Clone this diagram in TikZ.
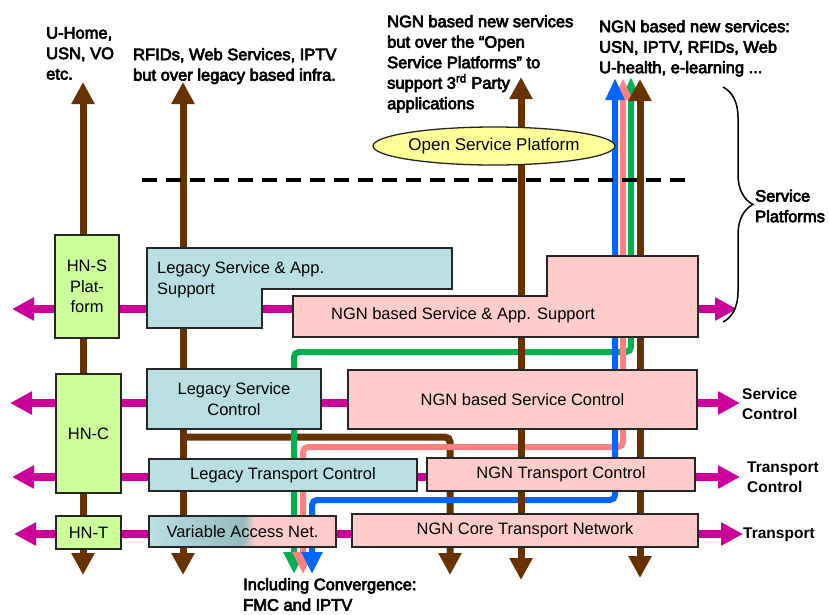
\documentclass[tikz,border=0pt]{standalone}
\usepackage{fontspec}
\setmainfont{Liberation Sans}
\newfontfamily\heavyfont[FakeBold=4]{Liberation Sans}
\usetikzlibrary{arrows.meta}
\usetikzlibrary{shapes.geometric,decorations.pathreplacing}
\definecolor{busbrown}{HTML}{663300}
\definecolor{ctrlmagenta}{HTML}{CC0099}
\definecolor{flowgreen}{HTML}{00B050}
\definecolor{flowpink}{HTML}{FF8080}
\definecolor{flowblue}{HTML}{0066FF}
\definecolor{legacyblue}{HTML}{B9DFE3}
\definecolor{accessteal}{HTML}{93BCBF}
\definecolor{ngnpink}{HTML}{FFCCCC}
\definecolor{hngreen}{HTML}{CCFF99}
\definecolor{ospyellow}{HTML}{FFFF99}
\tikzstyle{base} = [rectangle, draw=black!85, line width=1.3pt, inner sep=0pt, align=center, font=\fontsize{16.5}{20.5}\selectfont]
\tikzstyle{legacy} = [base, fill=legacyblue]
\tikzstyle{ngn} = [base, fill=ngnpink]
\tikzstyle{hn} = [base, fill=hngreen]
\tikzstyle{shapeline} = [draw=black!85, line width=1.3pt]
\tikzstyle{bus} = [draw=busbrown, line width=7pt, {Triangle[width=22pt,length=22pt]}-{Triangle[width=22pt,length=22pt]}]
\tikzstyle{ctrl} = [draw=ctrlmagenta, line width=8pt, {Triangle[width=22pt,length=22pt]}-{Triangle[width=22pt,length=22pt]}]
\tikzstyle{flow} = [line width=6pt, rounded corners=5pt, {Triangle[width=18pt,length=22pt]}-{Triangle[width=20pt,length=22pt]}]
\tikzstyle{toplabel} = [anchor=north west, inner sep=0pt, align=left, font=\heavyfont\fontsize{16.5}{20.5}\selectfont]
\tikzstyle{sidelabel} = [anchor=north west, inner sep=0pt, align=left, font=\bfseries\fontsize{15.5}{20}\selectfont]
\begin{document}
\begin{tikzpicture}[x=1pt, y=-1pt]
    \useasboundingbox (0,0) rectangle (830,614);

    \coordinate (hnTop) at (83,82);
    \coordinate (hnBot) at (83,575);
    \coordinate (legTop) at (183,82);
    \coordinate (legBot) at (183,575);
    \coordinate (legFork) at (183,437);
    \coordinate (forkBot) at (450,575);
    \coordinate (ospTop) at (521,77);
    \coordinate (ospBot) at (521,580);
    \coordinate (ngnTop) at (640,79);
    \coordinate (ngnBot) at (640,578);
    \coordinate (greenTop) at (631,77);
    \coordinate (greenBot) at (294,574);
    \coordinate (pinkTop) at (623,78);
    \coordinate (pinkBot) at (303,574);
    \coordinate (blueTop) at (615,78);
    \coordinate (blueBot) at (312,574);
    \coordinate (svcW) at (12,309);
    \coordinate (svcE) at (737,309);
    \coordinate (scW) at (10,403);
    \coordinate (scE) at (740,403);
    \coordinate (tcW) at (12,477);
    \coordinate (tcE) at (740,477);
    \coordinate (trW) at (14,534);
    \coordinate (trE) at (743,534);

    \draw[ctrl] (svcW) -- (svcE);
    \draw[ctrl] (scW) -- (scE);
    \draw[ctrl] (tcW) -- (tcE);
    \draw[ctrl] (trW) -- (trE);

    \draw[draw=busbrown, line width=7pt, rounded corners=5pt, -{Triangle[width=22pt,length=22pt]}] (legFork) -| (forkBot);
    \draw[flow, flowgreen] (greenTop) -- ++(0,275) -| (greenBot);
    \draw[flow, flowpink] (pinkTop) -- ++(0,369) -| (pinkBot);
    \draw[flow, flowblue] (blueTop) -- ++(0,422) -| (blueBot);
    \draw[bus] (hnTop) -- (hnBot);
    \draw[bus] (legTop) -- (legBot);
    \draw[bus] (ospTop) -- (ospBot);
    \draw[bus] (ngnTop) -- (ngnBot);

    \draw[line width=4pt, dash pattern=on 15pt off 9pt] (142,180) -- (692,180);
    \draw[line width=1.5pt, decorate, decoration={brace, amplitude=30pt}] (723,87) -- (723,322);

    \draw[shapeline, fill=legacyblue] (147,248) -- (452,248) -- (452,289) -- (262,289) -- (262,328) -- (147,328) -- cycle;
    \draw[shapeline, fill=ngnpink] (293,296) -- (547,296) -- (547,256) -- (698,256) -- (698,337) -- (293,337) -- cycle;
    \node (legacySAS) [anchor=north west, align=left, inner sep=0pt, font=\fontsize{16.5}{21}\selectfont] at (157,261) {Legacy Service \& App.\\Support};
    \node (ngnSAS) [font=\fontsize{16.5}{20}\selectfont, inner sep=0pt] at (463,315) {NGN based Service \& App. Support};

    \node (hnS) [hn, minimum width=64pt, minimum height=103pt] at (87,286.5) {HN-S\\Plat-\\form};
    \node (hnC) [hn, minimum width=65pt, minimum height=119pt] at (88.5,433.5) {HN-C};
    \node (hnT) [hn, minimum width=65pt, minimum height=33pt] at (88.5,532.5) {HN-T};

    \node (legacySC) [legacy, minimum width=174pt, minimum height=60pt] at (234,399) {Legacy Service\\Control};
    \node (ngnSC) [ngn, minimum width=349pt, minimum height=59pt] at (522.5,399.5) {NGN based Service Control};
    \node (legacyTC) [legacy, minimum width=268pt, minimum height=32pt] at (283,475) {Legacy Transport Control};
    \node (ngnTC) [ngn, minimum width=268pt, minimum height=33pt] at (561,474.5) {NGN Transport Control};

    \fill[ngnpink] (149,516) rectangle (336,547);
    \shade[left color=legacyblue, right color=accessteal] (149,516) rectangle (243,547);
    \shade[left color=accessteal, right color=ngnpink] (243,516) rectangle (255,547);
    \node (access) [base, minimum width=187pt, minimum height=31pt] at (242.5,531.5) {Variable Access Net.};
    \node (ngnCore) [ngn, minimum width=346pt, minimum height=33pt] at (525,530.5) {NGN Core Transport Network};

    \node (osp) [ellipse, shapeline, fill=ospyellow, minimum width=198pt, minimum height=38pt, inner sep=0pt, font=\fontsize{17}{20}\selectfont] at (494,146) {Open Service Platform};

    \node (lblHome) [toplabel] at (46,27) {U-Home,\\USN, VO\\etc.};
    \node (lblLegacy) [toplabel] at (133,48) {RFIDs, Web Services, IPTV\\but over legacy based infra.};
    \node (lblOpen) [toplabel] at (387,15) {NGN based new services\\but over the “Open\\Service Platforms” to\\support 3\textsuperscript{rd} Party\\applications};
    \node (lblNew) [toplabel] at (599,20) {NGN based new services:\\USN, IPTV, RFIDs, Web\\U-health, e-learning ...};
    \node (lblPlat) [toplabel, anchor=west] at (755,206) {Service\\Platforms};
    \node (lblConv) [toplabel] at (243,578) {Including Convergence:\\FMC and IPTV};
    \node (lblSC) [sidelabel] at (742,388) {Service\\Control};
    \node (lblTC) [sidelabel] at (747,462) {Transport\\Control};
    \node (lblT) [sidelabel] at (743,528) {Transport};
\end{tikzpicture}
\end{document}
